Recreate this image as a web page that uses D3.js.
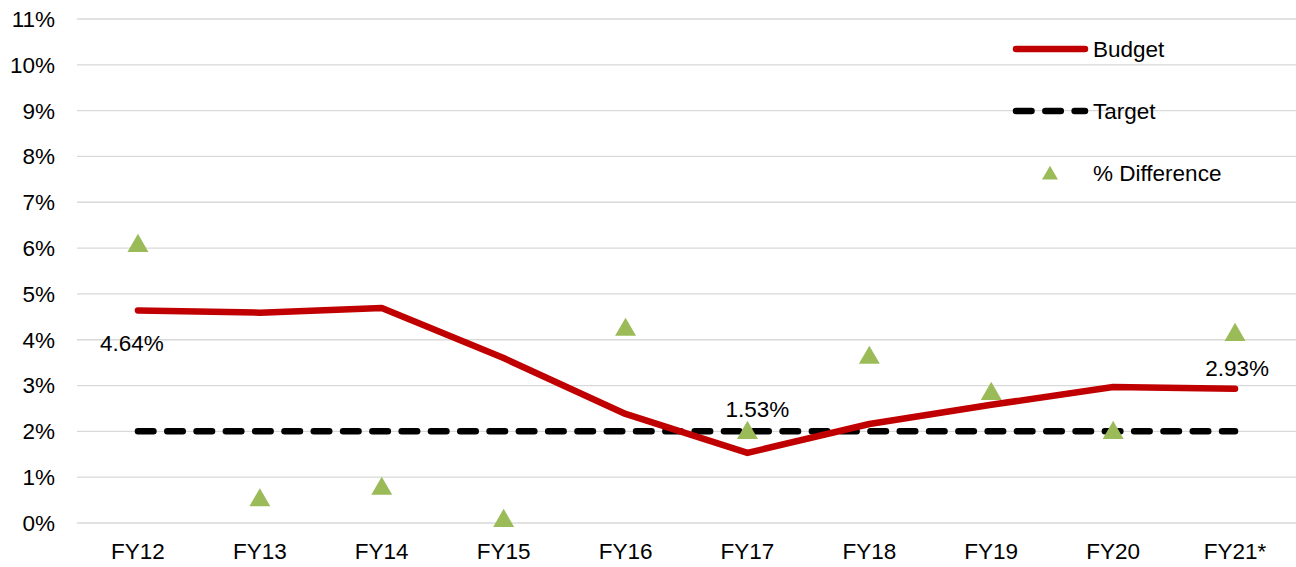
<!DOCTYPE html>
<html>
<head>
<meta charset="utf-8">
<script src="https://cdn.jsdelivr.net/npm/d3@7"></script>
<style>
  html, body { margin: 0; padding: 0; background: #fff; }
  svg { display: block; font-family: Arial, 'Liberation Sans', sans-serif; }
</style>
</head>
<body>
<svg id="chart" width="1296" height="567"></svg>
<script>
// ── Data ─────────────────────────────────────────────
const years      = ['FY12', 'FY13', 'FY14', 'FY15', 'FY16', 'FY17', 'FY18', 'FY19', 'FY20', 'FY21*'];
const budget     = [4.64, 4.59, 4.69, 3.60, 2.38, 1.53, 2.16, 2.58, 2.97, 2.93];
const target     = [2, 2, 2, 2, 2, 2, 2, 2, 2, 2];
const difference = [6.09, 0.54, 0.79, 0.09, 4.26, 2.01, 3.65, 2.86, 2.01, 4.15];
const yTicks     = [0, 1, 2, 3, 4, 5, 6, 7, 8, 9, 10, 11];
// which budget points carry a value label
const labelled   = [0, 5, 9];

// ── Layout ───────────────────────────────────────────
const W = 1296, H = 567;
const m = { top: 19, right: 0, bottom: 44, left: 77 };
const FS = 22.5;
const svg = d3.select('#chart');

const x = d3.scaleBand().domain(years).range([m.left, W - m.right]);
const y = d3.scaleLinear().domain([0, 11]).range([H - m.bottom, m.top]);
const cx = d => x(d) + x.bandwidth() / 2;

// gridlines
svg.append('g').selectAll('line').data(yTicks).join('line')
  .attr('x1', m.left).attr('x2', W - m.right)
  .attr('y1', d => y(d)).attr('y2', d => y(d))
  .attr('stroke', '#d9d9d9').attr('stroke-width', 1.3);

// y labels
svg.append('g').selectAll('text').data(yTicks).join('text')
  .attr('x', 55).attr('y', d => y(d)).attr('dy', '0.35em')
  .attr('text-anchor', 'end').attr('font-size', FS).attr('fill', '#000')
  .text(d => d + '%');

// x labels
svg.append('g').selectAll('text').data(years).join('text')
  .attr('x', d => cx(d)).attr('y', H - 8)
  .attr('text-anchor', 'middle').attr('font-size', FS).attr('fill', '#000')
  .text(d => d);

// target line
const line = d3.line().x((d, i) => cx(years[i])).y(d => y(d));
svg.append('path').datum(target)
  .attr('d', line).attr('fill', 'none')
  .attr('stroke', '#000').attr('stroke-width', 6.5)
  .attr('stroke-linecap', 'round').attr('stroke-dasharray', '15.5,13.8');

// budget line
svg.append('path').datum(budget)
  .attr('d', line).attr('fill', 'none')
  .attr('stroke', '#c00000').attr('stroke-width', 6.5)
  .attr('stroke-linecap', 'round').attr('stroke-linejoin', 'round');

// difference markers
const tri = d3.symbol().type(d3.symbolTriangle).size(190);
svg.append('g').selectAll('path').data(difference).join('path')
  .attr('d', tri)
  .attr('transform', (d, i) => `translate(${cx(years[i])},${y(d) + 2})`)
  .attr('fill', '#9bbb59');

// data labels (FY12 below, FY17 above the target line, FY21 above)
const labelDx = { 0: -6, 5: 10, 9: 2 };
const labelDy = { 0: 41, 5: -36, 9: -13 };
svg.append('g').selectAll('text').data(labelled).join('text')
  .attr('x', i => cx(years[i]) + labelDx[i])
  .attr('y', i => y(budget[i]) + labelDy[i])
  .attr('text-anchor', 'middle').attr('font-size', FS).attr('fill', '#000')
  .text(i => budget[i].toFixed(2) + '%');

// ── Legend ───────────────────────────────────────────
const leg = svg.append('g');
leg.append('line').attr('x1', 1016).attr('x2', 1085).attr('y1', 49).attr('y2', 49)
  .attr('stroke', '#c00000').attr('stroke-width', 6.5).attr('stroke-linecap', 'round');
leg.append('line').attr('x1', 1016).attr('x2', 1085).attr('y1', 111).attr('y2', 111)
  .attr('stroke', '#000').attr('stroke-width', 6.5).attr('stroke-linecap', 'round')
  .attr('stroke-dasharray', '15.5,13.8');
leg.append('path').attr('d', d3.symbol().type(d3.symbolTriangle).size(110))
  .attr('transform', 'translate(1050,175)').attr('fill', '#9bbb59');
[['Budget', 49], ['Target', 111], ['% Difference', 173]].forEach(([t, yy]) => {
  leg.append('text').attr('x', 1093).attr('y', yy).attr('dy', '0.35em')
    .attr('font-size', FS).attr('fill', '#000').text(t);
});
</script>
</body>
</html>
